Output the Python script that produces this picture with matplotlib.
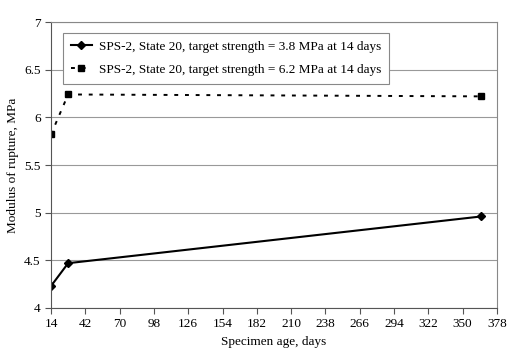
import matplotlib
matplotlib.use('Agg')
import matplotlib.pyplot as plt

# data
age_days = [14, 28, 365]
mor_low = [4.23, 4.47, 4.96]    # target 3.8 MPa
mor_high = [5.82, 6.24, 6.22]   # target 6.2 MPa

labels = ['SPS-2, State 20, target strength = 3.8 MPa at 14 days',
          'SPS-2, State 20, target strength = 6.2 MPa at 14 days']
x_ticks = list(range(14, 379, 28))
y_ticks = [4, 4.5, 5, 5.5, 6, 6.5, 7]

plt.rcParams['font.family'] = ['Liberation Serif', 'DejaVu Serif']
plt.rcParams['font.size'] = 9

fig = plt.figure(figsize=(5.15, 3.58), dpi=100)
ax = fig.add_axes([0.099, 0.1397, 0.866, 0.7988])

ax.plot(age_days, mor_low, color='black', linestyle='-', linewidth=1.5,
        marker='D', markersize=4, label=labels[0])
ax.plot(age_days, mor_high, color='black', linestyle=(0, (2, 3.5)), linewidth=1.4,
        marker='s', markersize=4.5, label=labels[1])

ax.set_xlim(14, 378)
ax.set_ylim(4, 7)
ax.set_xticks(x_ticks)
ax.set_yticks(y_ticks)
ax.set_yticklabels(['4', '4.5', '5', '5.5', '6', '6.5', '7'])

ax.grid(True, axis='y', color='#999999', linewidth=0.8)
ax.set_axisbelow(True)
for side in ['top', 'right']:
    ax.spines[side].set_color('#888888')
for side in ['left', 'bottom']:
    ax.spines[side].set_color('#555555')
ax.tick_params(direction='out', length=4, color='#555555', labelsize=9.5)

ax.set_xlabel('Specimen age, days', fontsize=9.5)
ax.set_ylabel('Modulus of rupture, MPa', fontsize=9.5)

leg = ax.legend(loc='upper left', bbox_to_anchor=(0.012, 0.985), fancybox=False,
                edgecolor='#888888', framealpha=1, fontsize=9.5, handlelength=1.6,
                handletextpad=0.5, borderpad=0.6, labelspacing=0.8)
leg.get_frame().set_linewidth(0.8)

plt.savefig('out.png', dpi=100)
plt.close()
